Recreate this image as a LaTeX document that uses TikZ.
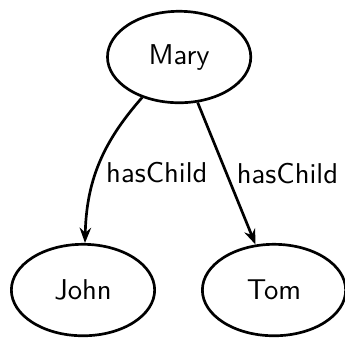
\documentclass[tikz,border=0pt]{standalone}
\usepackage{tikz}
\usetikzlibrary{arrows.meta,shapes.geometric}
\tikzset{
  person/.style={ellipse, draw=black, line width=1pt, minimum width=1.88cm,
    minimum height=1.2cm, inner sep=1pt,
    font=\sffamily\fontsize{10.7pt}{13pt}\selectfont},
  child arc/.style={-{Stealth[length=2mm]}, line width=1pt, draw=black},
  arc label/.style={font=\sffamily\fontsize{10.7pt}{13pt}\selectfont, right}
}
\begin{document}
\begin{tikzpicture}
  \useasboundingbox (0,0) rectangle (4.526,4.435);
  \node[person] (mary) at (2.35,3.687) {Mary};
  \node[person] (john) at (1.089,0.630) {John};
  \node[person] (tom) at (3.595,0.630) {Tom};
  \draw[child arc] (mary) to[bend right=20]
    node[arc label, pos=0.56] {hasChild} (john);
  \draw[child arc] (mary) -- node[arc label] {hasChild} (tom);
\end{tikzpicture}
\end{document}
